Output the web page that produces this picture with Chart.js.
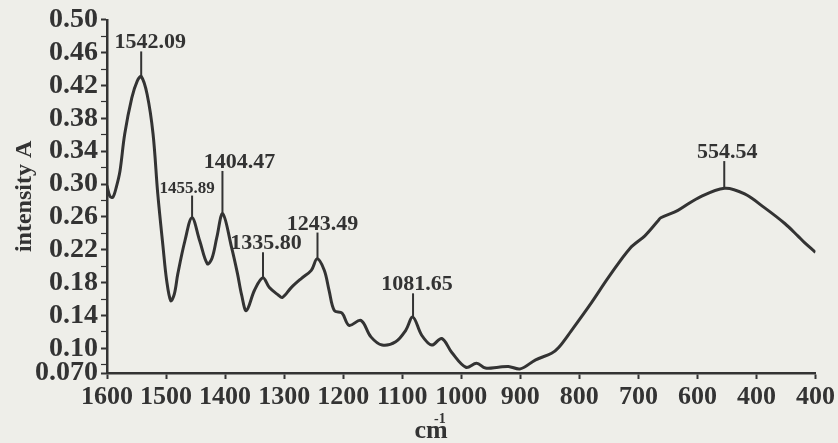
<!DOCTYPE html>
<html>
<head>
<meta charset="utf-8">
<script src="https://cdn.jsdelivr.net/npm/chart.js@4"></script>
<style>
  html, body { margin: 0; padding: 0; background: #eeeee9; }
  #chartBox { width: 838px; height: 443px; position: relative; }
</style>
</head>
<body>
<div id="chartBox"><canvas id="myChart"></canvas></div>
<script>
  // spectrum (cm-1 / absorbance)
  var wavenumber = [1600, 1595, 1590, 1584, 1578, 1570, 1558, 1549, 1542, 1532, 1522, 1514, 1505, 1499, 1492, 1486,
    1480, 1468, 1456, 1443, 1430, 1422, 1414, 1404, 1389, 1379, 1372, 1364, 1350, 1336, 1325, 1310, 1303, 1288,
    1271, 1254, 1244, 1232, 1224, 1215, 1202, 1190, 1170, 1153, 1134, 1111, 1094, 1082, 1067, 1050, 1033, 1016,
    992, 974, 959, 937, 920, 900, 874, 847, 835, 814, 780, 751, 714, 689, 667, 662, 633, 599, 554, 520, 486,
    452, 430, 419, 400];
  var absorbance = [0.298, 0.285, 0.284, 0.297, 0.316, 0.361, 0.405, 0.425, 0.431, 0.409, 0.361, 0.288, 0.223, 0.183, 0.158, 0.166,
    0.191, 0.231, 0.259, 0.231, 0.203, 0.210, 0.235, 0.264, 0.223, 0.191, 0.165, 0.146, 0.171, 0.186, 0.174, 0.165, 0.162, 0.174,
    0.185, 0.195, 0.209, 0.195, 0.171, 0.146, 0.143, 0.128, 0.134, 0.114, 0.104, 0.108, 0.122, 0.138, 0.116, 0.104, 0.112, 0.095,
    0.077, 0.082, 0.076, 0.077, 0.078, 0.075, 0.086, 0.094, 0.101, 0.121, 0.155, 0.186, 0.222, 0.237, 0.255, 0.259, 0.268, 0.283, 0.295, 0.288, 0.271,
    0.252, 0.237, 0.229, 0.217];

  // axis ticks
  var xTickValues = [1600, 1500, 1400, 1300, 1200, 1100, 1000, 900, 800, 700, 600, 500, 400];
  var xTickLabels = ['1600', '1500', '1400', '1300', '1200', '1100', '1000', '900', '800', '700', '600', '400', '400'];
  var yTickValues = [0.07, 0.10, 0.14, 0.18, 0.22, 0.26, 0.30, 0.34, 0.38, 0.42, 0.46, 0.50];
  var yTickLabels = ['0.070', '0.10', '0.14', '0.18', '0.22', '0.26', '0.30', '0.34', '0.38', '0.42', '0.46', '0.50'];
  var yMinorTicks = [0.08, 0.12, 0.16, 0.20, 0.24, 0.28, 0.32, 0.36, 0.40, 0.44, 0.48];

  // marked peaks
  var peakWavenumber = [1542.09, 1455.89, 1404.47, 1335.80, 1243.49, 1081.65, 554.54];
  var peakLabels = ['1542.09', '1455.89', '1404.47', '1335.80', '1243.49', '1081.65', '554.54'];
  var peakHeight = [0.431, 0.259, 0.264, 0.186, 0.209, 0.138, 0.295];
  var peakMarkTop = [0.4615, 0.286, 0.316, 0.217, 0.241, 0.167, 0.328];

  var ink = '#333333';
  var serif = '"Liberation Serif", "Times New Roman", serif';

  // peak marker lines + labels
  const peakPlugin = {
    id: 'peaks',
    afterDatasetsDraw(chart, args, opts) {
      const ctx = chart.ctx;
      const x = chart.scales.x, y = chart.scales.y;
      ctx.save();
      ctx.strokeStyle = ink;
      ctx.fillStyle = ink;
      ctx.lineWidth = 2;
      ctx.textAlign = 'center';
      ctx.textBaseline = 'alphabetic';
      for (let i = 0; i < peakWavenumber.length; i++) {
        const px = x.getPixelForValue(peakWavenumber[i]);
        const y0 = y.getPixelForValue(peakHeight[i]);
        const y1 = y.getPixelForValue(peakMarkTop[i]);
        ctx.beginPath();
        ctx.moveTo(px, y0);
        ctx.lineTo(px, y1);
        ctx.stroke();
        ctx.font = 'bold ' + opts.sizes[i] + 'px ' + serif;
        ctx.fillText(peakLabels[i], px + opts.dx[i], y1 - 3);
      }
      ctx.restore();
    }
  };

  // x axis title with superscript
  const unitPlugin = {
    id: 'unit',
    afterDraw(chart) {
      const ctx = chart.ctx;
      const cx = chart.width / 2 + 12;
      ctx.save();
      ctx.fillStyle = ink;
      ctx.textBaseline = 'alphabetic';
      ctx.textAlign = 'center';
      ctx.font = 'bold 26px ' + serif;
      ctx.fillText('cm', cx, 438);
      ctx.textAlign = 'left';
      ctx.font = 'bold 14px ' + serif;
      ctx.fillText('-1', cx + 3, 423);
      ctx.restore();
    }
  };

  const data = {
    datasets: [{
      label: 'intensity A',
      data: wavenumber.map((w, i) => ({x: w, y: absorbance[i]})),
      borderColor: ink,
      borderWidth: 3,
      pointRadius: 0,
      fill: false,
      tension: 0.35
    }]
  };

  const config = {
    type: 'line',
    data: data,
    options: {
      responsive: true,
      maintainAspectRatio: false,
      animation: false,
      layout: { padding: { top: 18, right: 20, left: 0, bottom: 0 } },
      scales: {
        x: {
          type: 'linear',
          reverse: true,
          min: 400,
          max: 1600,
          afterBuildTicks: (scale) => { scale.ticks = xTickValues.map(v => ({value: v})); },
          afterFit: (scale) => { scale.height = 70; },
          ticks: {
            autoSkip: false,
            maxRotation: 0,
            padding: 3,
            color: ink,
            font: { family: serif, size: 26, weight: 'bold' },
            callback: (v) => {
              const i = xTickValues.indexOf(v);
              return i >= 0 ? xTickLabels[i] : '';
            }
          },
          grid: { drawOnChartArea: false, drawTicks: true, tickLength: 6, tickColor: ink, tickWidth: 2 },
          border: { display: true, color: ink, width: 2.5 }
        },
        y: {
          min: 0.07,
          max: 0.50,
          afterBuildTicks: (scale) => {
            scale.ticks = yTickValues.concat(yMinorTicks).sort((a, b) => a - b).map(v => ({value: v}));
          },
          afterFit: (scale) => { scale.width = 107; },
          ticks: {
            autoSkip: false,
            padding: 3,
            color: ink,
            font: { family: serif, size: 28, weight: 'bold' },
            callback: (v) => {
              const i = yTickValues.findIndex(t => Math.abs(t - v) < 1e-6);
              return i >= 0 ? yTickLabels[i] : '';
            }
          },
          grid: {
            drawOnChartArea: false, drawTicks: true, tickLength: 6, tickColor: ink,
            tickWidth: (c) => yTickValues.some(t => Math.abs(t - c.tick.value) < 1e-6) ? 2 : 1.2
          },
          border: { display: true, color: ink, width: 2.5 },
          title: {
            display: true,
            text: 'intensity A',
            color: ink,
            font: { family: serif, size: 24, weight: 'bold' },
            padding: { top: 10, bottom: 0 }
          }
        }
      },
      plugins: {
        legend: { display: false },
        tooltip: { enabled: false },
        peaks: {
          dx: [9, -5, 17, 3, 5, 4, 3],
          sizes: [22, 17, 22, 22, 22, 22, 22]
        }
      }
    },
    plugins: [peakPlugin, unitPlugin]
  };

  const myChart = new Chart(document.getElementById('myChart'), config);
</script>
</body>
</html>
